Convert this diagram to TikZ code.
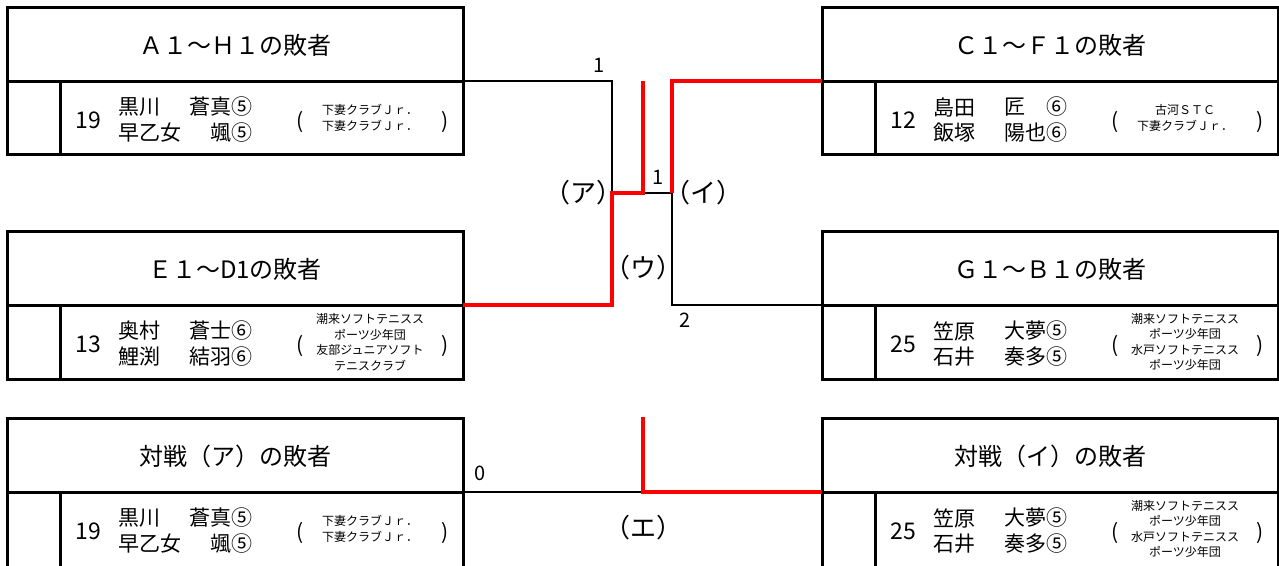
\documentclass[tikz,border=0pt]{standalone}
\usepackage{fontspec}
\setmainfont{Noto Sans CJK JP}
\newcommand\haisha[9]{%
\begin{scope}[shift={(#2)}]
\node[ttl] (#1t) at (228,38) {#3};
\node[num] (#1n) at (81,113) {#4};
\node[nm,anchor=west] (#1a) at (111,100) {#5};
\node[nm,anchor=east] (#1b) at (246,100) {#6};
\node[nm,anchor=west] (#1c) at (111,126) {#7};
\node[nm,anchor=east] (#1d) at (246,126) {#8};
\node[paren] (#1l) at (293,115) {(};
\node[paren] (#1r) at (438,115) {)};
\node[club] (#1k) at (363,111) {#9};
\end{scope}}
\begin{document}
\begin{tikzpicture}[x=1pt, y=-1pt,
  frame/.style={line width=3pt},
  lose/.style={line width=2.5pt},
  win/.style={red, line width=4.8pt},
  ttl/.style={inner sep=0pt, font=\fontsize{24}{28}\selectfont},
  num/.style={inner sep=0pt, font=\fontsize{23}{26}\selectfont},
  nm/.style={inner sep=0pt, font=\fontsize{21}{24}\selectfont},
  paren/.style={inner sep=0pt, font=\fontsize{21}{24}\selectfont},
  club/.style={inner sep=0pt, align=center, font=\fontsize{12}{15.5}\selectfont},
  lbl/.style={inner sep=0pt, font=\fontsize{20}{22}\selectfont},
  kakko/.style={inner sep=0pt, font=\fontsize{26}{30}\selectfont}]
\useasboundingbox (0,0) rectangle (1279,565);
\clip (0,0) rectangle (1279,565);
\foreach \bx/\by/\bh in {7/7/147, 822/7/147, 7/231/148, 822/231/148, 7/418/160, 822/418/160}
  \draw[frame] (\bx,\by) rectangle ++(456,\bh) (\bx,\by+74) -- ++(456,0) (\bx+53,\by+74) -- (\bx+53,\by+\bh);
\haisha{a}{7,7}{Ａ１～Ｈ１の敗者}{19}{黒川}{蒼真⑤}{早乙女}{颯⑤}{下妻クラブＪｒ．\\下妻クラブＪｒ．}
\haisha{c}{822,7}{Ｃ１～Ｆ１の敗者}{12}{島田}{匠　⑥}{飯塚}{陽也⑥}{古河ＳＴＣ\\下妻クラブＪｒ．}
\haisha{e}{7,231}{Ｅ１～D1の敗者}{13}{奥村}{蒼士⑥}{鯉渕}{結羽⑥}{潮来ソフトテニスス\\ポーツ少年団\\友部ジュニアソフト\\テニスクラブ}
\haisha{g}{822,231}{Ｇ１～Ｂ１の敗者}{25}{笠原}{大夢⑤}{石井}{奏多⑤}{潮来ソフトテニスス\\ポーツ少年団\\水戸ソフトテニスス\\ポーツ少年団}
\haisha{p}{7,418}{対戦（ア）の敗者}{19}{黒川}{蒼真⑤}{早乙女}{颯⑤}{下妻クラブＪｒ．\\下妻クラブＪｒ．}
\haisha{q}{822,418}{対戦（イ）の敗者}{25}{笠原}{大夢⑤}{石井}{奏多⑤}{潮来ソフトテニスス\\ポーツ少年団\\水戸ソフトテニスス\\ポーツ少年団}
\coordinate (A) at (463,81);
\coordinate (E) at (463,305);
\coordinate (P) at (463,492);
\coordinate (C) at (822,81);
\coordinate (G) at (822,305);
\coordinate (I) at (822,492);
\coordinate (ja) at (612,193);
\coordinate (ji) at (672,193);
\coordinate (wa) at (643,81);
\coordinate (wb) at (643,417);
\draw[lose] (A) -| (ja);
\draw[lose] (ja) -- (ji);
\draw[lose] (ji) |- (G);
\draw[lose] (P) -- (wb |- P);
\draw[win] (E) -| (ja) -| (wa);
\draw[win] (ji) |- (C);
\draw[win] (wb) |- (I);
\node[lbl] (s1) at (599,65) {1};
\node[lbl] (s2) at (658,177) {1};
\node[lbl] (s3) at (685,320) {2};
\node[lbl] (s4) at (480,473) {0};
\node[kakko] (ka) at (583,193) {（ア）};
\node[kakko] (ki) at (703,193) {（イ）};
\node[kakko] (ku) at (643,268) {（ウ）};
\node[kakko] (ke) at (643,528) {（エ）};
\end{tikzpicture}
\end{document}
